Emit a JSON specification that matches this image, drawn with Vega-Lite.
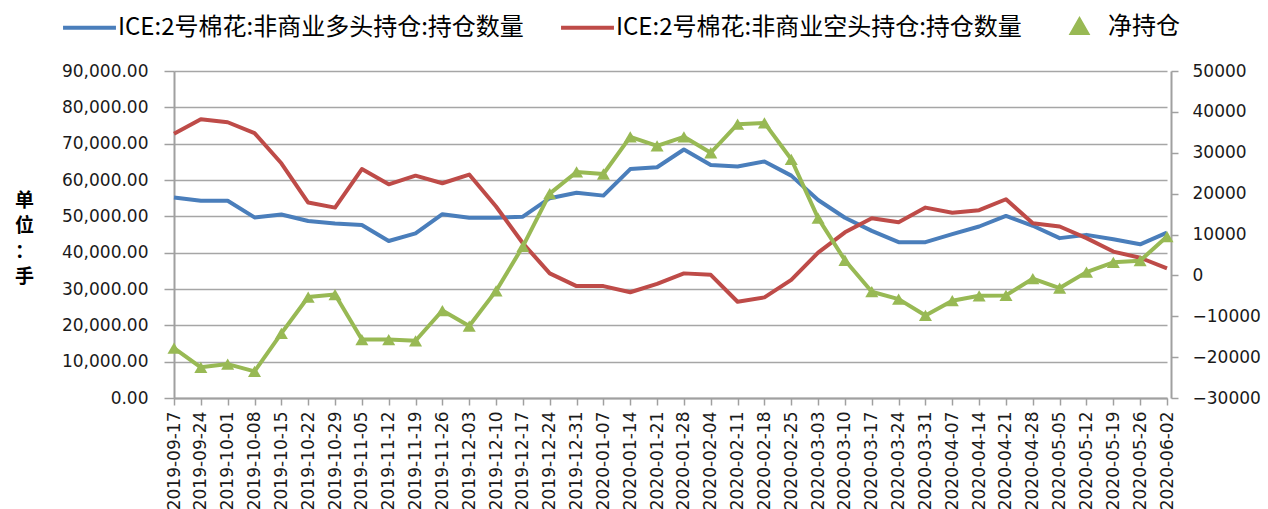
{
  "$schema": "https://vega.github.io/schema/vega-lite/v6.json",
  "width": 997,
  "height": 327,
  "autosize": {"type": "none"},
  "padding": {"left": 174, "top": 71, "right": 97, "bottom": 111},
  "background": "white",
  "config": {
    "view": {"stroke": null},
    "axis": {
      "labelFont": "DejaVu Sans",
      "labelFontSize": 17,
      "labelColor": "#1a1a1a",
      "domainColor": "#a0a0a0",
      "domainWidth": 2,
      "tickColor": "#a0a0a0",
      "tickWidth": 1.5,
      "gridColor": "#a6a6a6",
      "gridWidth": 1.5,
      "labelOverlap": false
    }
  },
  "data": {
    "values": [
      {"date": "2019-09-17", "long": 55200, "short": 72700, "net": -17800},
      {"date": "2019-09-24", "long": 54300, "short": 76700, "net": -22500},
      {"date": "2019-10-01", "long": 54300, "short": 75900, "net": -21700},
      {"date": "2019-10-08", "long": 49700, "short": 72900, "net": -23500},
      {"date": "2019-10-15", "long": 50500, "short": 64600, "net": -14200},
      {"date": "2019-10-22", "long": 48700, "short": 53800, "net": -5300},
      {"date": "2019-10-29", "long": 48000, "short": 52400, "net": -4700},
      {"date": "2019-11-05", "long": 47600, "short": 63000, "net": -15700},
      {"date": "2019-11-12", "long": 43200, "short": 58800, "net": -15700},
      {"date": "2019-11-19", "long": 45300, "short": 61200, "net": -16000},
      {"date": "2019-11-26", "long": 50600, "short": 59100, "net": -8600},
      {"date": "2019-12-03", "long": 49600, "short": 61500, "net": -12400},
      {"date": "2019-12-10", "long": 49600, "short": 52700, "net": -3800},
      {"date": "2019-12-17", "long": 49900, "short": 42600, "net": 7100},
      {"date": "2019-12-24", "long": 55000, "short": 34300, "net": 20000},
      {"date": "2019-12-31", "long": 56500, "short": 30800, "net": 25300},
      {"date": "2020-01-07", "long": 55700, "short": 30800, "net": 24800},
      {"date": "2020-01-14", "long": 63000, "short": 29100, "net": 33900},
      {"date": "2020-01-21", "long": 63500, "short": 31400, "net": 31700},
      {"date": "2020-01-28", "long": 68400, "short": 34300, "net": 33900},
      {"date": "2020-02-04", "long": 64100, "short": 33900, "net": 30000},
      {"date": "2020-02-11", "long": 63700, "short": 26500, "net": 37000},
      {"date": "2020-02-18", "long": 65100, "short": 27700, "net": 37300},
      {"date": "2020-02-25", "long": 61200, "short": 32500, "net": 28400},
      {"date": "2020-03-03", "long": 54500, "short": 40000, "net": 14000},
      {"date": "2020-03-10", "long": 49600, "short": 45600, "net": 3700},
      {"date": "2020-03-17", "long": 46000, "short": 49500, "net": -4000},
      {"date": "2020-03-24", "long": 42900, "short": 48400, "net": -5800},
      {"date": "2020-03-31", "long": 42900, "short": 52400, "net": -9800},
      {"date": "2020-04-07", "long": 45100, "short": 51000, "net": -6200},
      {"date": "2020-04-14", "long": 47200, "short": 51700, "net": -5000},
      {"date": "2020-04-21", "long": 50100, "short": 54700, "net": -4900},
      {"date": "2020-04-28", "long": 47400, "short": 48100, "net": -800},
      {"date": "2020-05-05", "long": 44000, "short": 47200, "net": -3100},
      {"date": "2020-05-12", "long": 44900, "short": 44000, "net": 800},
      {"date": "2020-05-19", "long": 43700, "short": 40300, "net": 3200},
      {"date": "2020-05-26", "long": 42300, "short": 38600, "net": 3600},
      {"date": "2020-06-02", "long": 45500, "short": 35700, "net": 9500}
    ]
  },
  "layer": [
    {
      "transform": [{"fold": ["long", "short"], "as": ["series", "value"]}],
      "mark": {"type": "line", "strokeWidth": 4, "strokeJoin": "round"},
      "encoding": {
        "x": {
          "field": "date",
          "type": "ordinal",
          "sort": null,
          "scale": {"type": "point", "range": [0, 993], "padding": 0},
          "axis": {
            "title": null,
            "labelAngle": -90,
            "tickSize": 7,
            "labelPadding": 6
          }
        },
        "y": {
          "field": "value",
          "type": "quantitative",
          "scale": {"domain": [0, 90000], "nice": false, "zero": false},
          "axis": {
            "values": [0, 10000, 20000, 30000, 40000, 50000, 60000, 70000, 80000, 90000],
            "format": ",.2f",
            "grid": true,
            "tickSize": 10,
            "labelPadding": 16,
            "title": ["单", "位", "：", "手"],
            "titleAngle": 0,
            "titleFont": "Noto Sans CJK SC",
            "titleFontSize": 19,
            "titleFontWeight": "bold",
            "titleColor": "#000000",
            "titleLineHeight": 25.5,
            "titleX": -150,
            "titleY": 129,
            "titleAlign": "center",
            "titleBaseline": "middle"
          }
        },
        "color": {
          "field": "series",
          "type": "nominal",
          "scale": {"domain": ["long", "short", "net"], "range": ["#4a7ebb", "#be4b48", "#98b954"]},
          "legend": {
            "title": null,
            "orient": "none",
            "legendX": -113,
            "legendY": -73,
            "direction": "horizontal",
            "padding": 0,
            "symbolSize": 2800,
            "symbolStrokeWidth": 4,
            "symbolType": "stroke",
            "labelFont": "Noto Sans CJK SC",
            "labelFontSize": 24,
            "labelColor": "#000000",
            "labelLimit": 0,
            "labelOffset": 0,
            "columnPadding": 29,
            "labelExpr": "datum.value == 'long' ? 'ICE:2号棉花:非商业多头持仓:持仓数量' : datum.value == 'short' ? 'ICE:2号棉花:非商业空头持仓:持仓数量' : '净持仓'",
            "encode": {
              "symbols": {
                "update": {
                  "shape": {"signal": "datum.value === 'net' ? 'triangle-up' : 'stroke'"},
                  "size": {"signal": "datum.value === 'net' ? 220 : 2800"},
                  "fill": {"signal": "datum.value === 'net' ? '#98b954' : 'transparent'"}
                }
              }
            }
          }
        }
      }
    },
    {
      "encoding": {
        "x": {"field": "date", "type": "ordinal", "sort": null},
        "y": {
          "field": "net",
          "type": "quantitative",
          "scale": {"domain": [-30000, 50000], "nice": false, "zero": false},
          "axis": {
            "orient": "right",
            "values": [-30000, -20000, -10000, 0, 10000, 20000, 30000, 40000, 50000],
            "format": "d",
            "grid": false,
            "tickSize": 7,
            "labelPadding": 14,
            "title": null
          }
        },
        "color": {"datum": "net", "type": "nominal"}
      },
      "layer": [
        {"mark": {"type": "line", "strokeWidth": 4, "strokeJoin": "round"}},
        {"mark": {"type": "point", "shape": "triangle-up", "filled": true, "size": 170, "opacity": 1}}
      ]
    }
  ],
  "resolve": {"scale": {"y": "independent"}}
}
